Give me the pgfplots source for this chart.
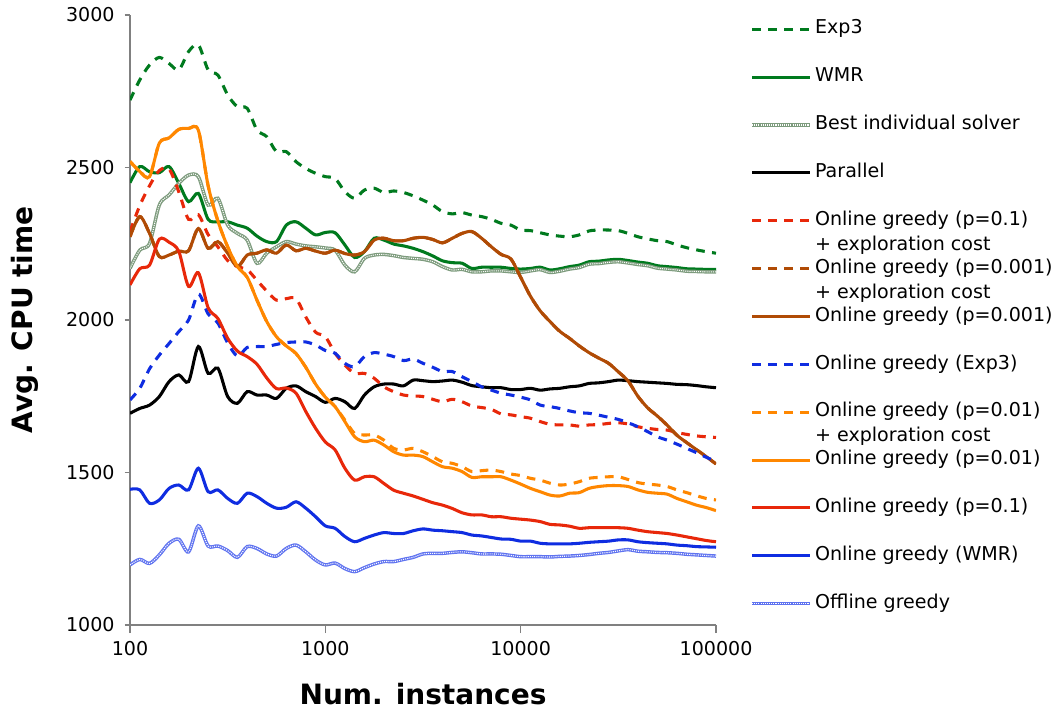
\documentclass[border=0pt]{standalone}
\usepackage{fontspec}
\setmainfont{DejaVu Sans}
\usepackage{pgfplots}
\usepackage{pgfplotstable}
\pgfplotsset{compat=1.18}
\definecolor{cgreen}{RGB}{0,122,30}
\definecolor{cbest}{RGB}{125,155,125}
\definecolor{cred}{RGB}{232,40,10}
\definecolor{cbrown}{RGB}{176,75,5}
\definecolor{cblue}{RGB}{15,45,225}
\definecolor{corange}{RGB}{255,135,0}
\definecolor{coff}{RGB}{95,115,240}

\pgfplotstableread{
x E W B P RD BR BD OD OS RS BS OG
100 2721 2450 2169 1694 2290 2273 1738 2520 2520 2115 1445 1197
112.2 2787 2503 2229 1710 2375 2339 1776 2487 2487 2168 1443 1215
125.9 2836 2486 2251 1721 2440 2284 1840 2470 2470 2180 1399 1202
141.3 2861 2483 2377 1749 2490 2208 1885 2580 2580 2265 1410 1230
158.5 2841 2503 2410 1798 2495 2213 1923 2597 2597 2255 1448 1268
177.8 2820 2448 2448 1820 2420 2226 1962 2625 2625 2225 1459 1281
199.5 2880 2388 2475 1798 2330 2227 2000 2628 2628 2110 1443 1240
223.9 2902 2415 2470 1913 2345 2300 2085 2622 2622 2155 1514 1325
251.2 2820 2330 2377 1825 2280 2235 2020 2440 2440 2040 1437 1259
281.8 2803 2322 2399 1842 2240 2257 1990 2325 2325 2005 1443 1259
316.2 2738 2322 2311 1749 2195 2219 1925 2240 2240 1940 1415 1244
354.8 2699 2311 2284 1727 2175 2175 1882 2175 2175 1898 1399 1222
398.1 2694 2301 2262 1765 2165 2213 1910 2140 2140 1880 1432 1257
446.7 2623 2275 2186 1754 2130 2219 1913 2065 2065 1855 1421 1251
501.2 2601 2257 2219 1754 2095 2230 1913 1995 1995 1810 1399 1233
562.3 2552 2257 2240 1743 2065 2219 1920 1945 1945 1775 1383 1226
631.0 2552 2311 2257 1776 2070 2246 1926 1915 1915 1777 1386 1251
707.9 2519 2322 2249 1784 2070 2227 1928 1890 1890 1760 1404 1262
794.3 2497 2301 2243 1765 2010 2235 1928 1845 1845 1700 1383 1240
891.3 2481 2279 2240 1749 1960 2226 1918 1790 1790 1645 1355 1213
1000 2470 2287 2236 1730 1945 2219 1900 1747 1747 1600 1325 1197
1122 2464 2286 2229 1743 1891 2229 1891 1716 1716 1574 1317 1203
1259 2421 2246 2180 1732 1852 2218 1858 1672 1667 1514 1290 1185
1413 2399 2205 2158 1710 1825 2213 1847 1628 1617 1475 1273 1175
1585 2426 2224 2202 1754 1825 2224 1880 1623 1601 1486 1284 1188
1778 2432 2268 2213 1781 1809 2262 1893 1623 1606 1486 1295 1200
1995 2418 2262 2215 1790 1781 2268 1888 1606 1590 1464 1303 1208
2239 2423 2249 2211 1790 1765 2260 1880 1579 1568 1442 1300 1208
2512 2418 2243 2205 1784 1754 2260 1867 1574 1557 1432 1300 1215
2818 2407 2235 2202 1803 1751 2268 1872 1579 1557 1423 1309 1222
3162 2393 2224 2199 1801 1749 2271 1858 1568 1552 1412 1315 1233
3548 2377 2210 2191 1798 1740 2264 1845 1552 1535 1401 1311 1235
3981 2355 2194 2175 1800 1732 2253 1831 1535 1519 1393 1309 1235
4467 2348 2188 2164 1803 1740 2268 1831 1530 1514 1382 1306 1238
5012 2352 2186 2166 1796 1732 2284 1814 1519 1503 1368 1303 1240
5623 2344 2169 2158 1785 1718 2290 1798 1503 1484 1361 1295 1237
6310 2339 2173 2158 1781 1713 2268 1781 1506 1486 1361 1292 1233
7079 2330 2173 2161 1778 1707 2240 1770 1508 1486 1355 1287 1233
7943 2317 2173 2161 1778 1692 2215 1760 1503 1486 1355 1282 1232
8913 2311 2169 2158 1772 1689 2200 1754 1495 1475 1350 1281 1228
10000 2295 2167 2156 1772 1683 2140 1747 1490 1462 1347 1275 1224
11220 2293 2169 2161 1776 1678 2078 1738 1481 1448 1344 1275 1224
12589 2286 2173 2165 1770 1667 2030 1721 1475 1437 1339 1268 1224
14125 2279 2164 2156 1774 1658 1995 1716 1465 1426 1330 1266 1223
15849 2275 2168 2160 1776 1656 1963 1710 1459 1423 1328 1266 1225
17783 2273 2175 2167 1781 1656 1940 1702 1462 1432 1324 1266 1226
19953 2279 2180 2172 1784 1652 1915 1696 1470 1434 1317 1268 1228
22387 2292 2191 2183 1792 1656 1893 1694 1481 1448 1319 1271 1231
25119 2295 2193 2185 1794 1657 1875 1688 1484 1454 1319 1273 1235
28184 2295 2197 2189 1798 1661 1858 1681 1486 1457 1319 1275 1238
31623 2293 2199 2191 1803 1663 1830 1674 1486 1457 1319 1279 1243
35481 2284 2195 2187 1801 1659 1800 1663 1477 1454 1317 1279 1247
39811 2273 2190 2182 1798 1650 1750 1650 1467 1443 1311 1273 1242
44668 2266 2186 2178 1796 1645 1712 1634 1462 1435 1306 1270 1240
50119 2260 2178 2170 1794 1641 1685 1617 1459 1432 1303 1268 1238
56234 2257 2175 2167 1792 1639 1655 1606 1454 1429 1300 1266 1237
63096 2246 2172 2164 1789 1631 1622 1593 1443 1415 1295 1262 1235
70795 2237 2168 2160 1788 1625 1598 1579 1434 1404 1289 1260 1232
79433 2230 2167 2159 1785 1620 1575 1565 1424 1393 1283 1257 1230
89125 2224 2166 2158 1781 1617 1552 1550 1415 1385 1277 1256 1228
100000 2219 2166 2158 1778 1615 1528 1536 1410 1375 1273 1255 1226
}\data

\pgfplotsset{
  sol/.style={line width=2.3pt, smooth, tension=0.5},
  dsh/.style={line width=2.3pt, smooth, tension=0.5, dash pattern=on 6.5pt off 5.5pt},
  tex/.style={line width=2.6pt, smooth, tension=0.5, postaction={draw, white, line width=0.8pt, dash pattern=on 0.8pt off 0.8pt}},
}

\begin{document}
\begin{tikzpicture}
\useasboundingbox (-97.5pt,-64.5pt) rectangle (697.5pt,468.75pt);
\begin{axis}[
  scale only axis, width=439.5pt, height=457.5pt,
  xmode=log, xmin=100, xmax=100000, ymin=1000, ymax=3000,
  xtick={100,1000,10000,100000}, xticklabels={100,1000,10000,100000},
  xminorticks=false,
  ytick={1000,1500,2000,2500,3000},
  scaled y ticks=false,
  /pgf/number format/1000 sep={},
  /pgf/number format/assume math mode=true,
  axis lines*=left,
  axis line style={draw=gray, line width=1.2pt},
  tick style={draw=gray, line width=1pt},
  tick align=outside,
  major tick length=4pt,
  xtick style={/pgfplots/major tick length=6pt},
  tick label style={font=\fontsize{14.3pt}{17pt}\selectfont, black},
  yticklabel style={xshift=-4pt},
  xticklabel style={yshift=-4.5pt},
  xlabel={Num. instances},
  ylabel={Avg. CPU time},
  every axis x label/.style={at={(axis description cs:0.5,-0.113)}, anchor=center, font=\fontsize{21pt}{25pt}\selectfont\bfseries},
  every axis y label/.style={at={(axis description cs:-0.179,0.5)}, rotate=90, anchor=center, font=\fontsize{21pt}{25pt}\selectfont\bfseries},
  legend cell align=left,
  legend image code/.code={\draw[#1] (0pt,0pt) -- (43.5pt,0pt);},
  legend style={at={(axis description cs:1,1)}, anchor=north west, xshift=25.5pt, yshift=-4pt,
    draw=none, fill=none, inner sep=0pt, row sep=22.9pt, column sep=2.5pt,
    font=\fontsize{14.3pt}{18.75pt}\selectfont,
    nodes={inner sep=0pt, text height=10pt, text depth=3pt}},
]
\addplot[dsh, cgreen] table[x=x, y=E] {\data};
\addlegendentry{Exp3}
\addplot[sol, cgreen] table[x=x, y=W] {\data};
\addlegendentry{WMR}
\addplot[tex, cbest] table[x=x, y=B] {\data};
\addlegendentry{Best individual solver}
\addplot[sol, black] table[x=x, y=P] {\data};
\addlegendentry{Parallel}
\addplot[dsh, cred] table[x=x, y=RD] {\data};
\addlegendentry{\begin{tabular}[t]{@{}l@{}}Online greedy (p=0.1)\\+ exploration cost\end{tabular}}
\addplot[dsh, cbrown] table[x=x, y=BR] {\data};
\addlegendentry{\begin{tabular}[t]{@{}l@{}}Online greedy (p=0.001)\\+ exploration cost\end{tabular}}
\addplot[sol, cbrown] table[x=x, y=BR] {\data};
\addlegendentry{Online greedy (p=0.001)}
\addplot[dsh, cblue] table[x=x, y=BD] {\data};
\addlegendentry{Online greedy (Exp3)}
\addplot[dsh, corange] table[x=x, y=OD] {\data};
\addlegendentry{\begin{tabular}[t]{@{}l@{}}Online greedy (p=0.01)\\+ exploration cost\end{tabular}}
\addplot[sol, corange] table[x=x, y=OS] {\data};
\addlegendentry{Online greedy (p=0.01)}
\addplot[sol, cred] table[x=x, y=RS] {\data};
\addlegendentry{Online greedy (p=0.1)}
\addplot[sol, cblue] table[x=x, y=BS] {\data};
\addlegendentry{Online greedy (WMR)}
\addplot[tex, coff] table[x=x, y=OG] {\data};
\addlegendentry{Offline greedy}
\end{axis}
\end{tikzpicture}
\end{document}
